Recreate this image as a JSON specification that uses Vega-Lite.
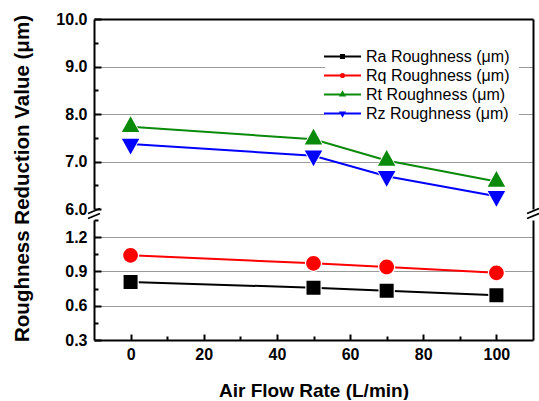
{
  "$schema": "https://vega.github.io/schema/vega-lite/v6.json",
  "padding": {"left": 12, "top": 11, "right": 3, "bottom": 0},
  "background": "white",
  "datasets": {
    "rough": [
      {"flow": 0, "series": "Ra Roughness (μm)", "value": 0.807},
      {"flow": 50, "series": "Ra Roughness (μm)", "value": 0.758},
      {"flow": 70, "series": "Ra Roughness (μm)", "value": 0.731},
      {"flow": 100, "series": "Ra Roughness (μm)", "value": 0.691},
      {"flow": 0, "series": "Rq Roughness (μm)", "value": 1.041},
      {"flow": 50, "series": "Rq Roughness (μm)", "value": 0.971},
      {"flow": 70, "series": "Rq Roughness (μm)", "value": 0.939},
      {"flow": 100, "series": "Rq Roughness (μm)", "value": 0.888},
      {"flow": 0, "series": "Rt Roughness (μm)", "value": 7.73},
      {"flow": 50, "series": "Rt Roughness (μm)", "value": 7.47},
      {"flow": 70, "series": "Rt Roughness (μm)", "value": 7.02},
      {"flow": 100, "series": "Rt Roughness (μm)", "value": 6.58},
      {"flow": 0, "series": "Rz Roughness (μm)", "value": 7.37},
      {"flow": 50, "series": "Rz Roughness (μm)", "value": 7.12},
      {"flow": 70, "series": "Rz Roughness (μm)", "value": 6.69},
      {"flow": 100, "series": "Rz Roughness (μm)", "value": 6.27}
    ],
    "breaks": [
      {"flow": -10, "value": 6},
      {"flow": 110, "value": 6}
    ]
  },
  "spacing": 11,
  "bounds": "flush",
  "resolve": {"scale": {"color": "independent", "shape": "independent"}},
  "vconcat": [
    {
      "width": 439,
      "height": 190,
      "resolve": {"axis": {"x": "independent", "y": "independent"}},
      "layer": [
        {
          "data": {"name": "rough"},
          "transform": [{"filter": "datum.value > 5"}],
          "mark": {"type": "line", "strokeWidth": 2},
          "encoding": {
            "x": {"field": "flow", "type": "quantitative", "scale": {"domain": [-10, 110], "nice": false, "zero": false},
                  "axis": {"orient": "top", "labels": false, "ticks": false, "grid": false, "title": null, "domain": true}},
            "y": {"field": "value", "type": "quantitative", "scale": {"domain": [6, 10], "nice": false, "zero": false},
                  "axis": {"orient": "left", "values": [6, 7, 8, 9, 10], "format": ".1f", "tickSize": -7, "labelPadding": 14,
                           "grid": true, "gridOpacity": {"condition": {"test": "datum.value > 6.5 && datum.value < 9.5", "value": 1}, "value": 0},
                           "title": "Roughness Reduction Value (μm)", "titleX": -62, "titleY": 159, "titleFontSize": 20.5}},
            "color": {"field": "series", "type": "nominal",
                      "scale": {"domain": ["Ra Roughness (μm)", "Rq Roughness (μm)", "Rt Roughness (μm)", "Rz Roughness (μm)"], "range": ["#000000", "#ff0000", "#0a8a0a", "#0000ff"]}}
          }
        },
        {
          "data": {"name": "rough"},
          "transform": [{"filter": "datum.value > 5"}],
          "mark": {"type": "point", "filled": true, "color": "white", "opacity": 1, "size": 6700},
          "encoding": {
            "x": {"field": "flow", "type": "quantitative", "axis": null},
            "y": {"field": "value", "type": "quantitative",
                  "axis": {"orient": "left", "values": [6.5, 7.5, 8.5, 9.5], "labels": false, "tickSize": -4, "domain": false, "grid": false, "title": null}},
            "shape": {"field": "series", "type": "nominal",
                      "scale": {"domain": ["Ra Roughness (μm)", "Rq Roughness (μm)", "Rt Roughness (μm)", "Rz Roughness (μm)"],
                                "range": ["M-2.5,0H2.5M-0.2,-0.2H0.2V0.2H-0.2Z", "M-2.5,0H2.5M-0.21,0A0.21,0.21,0,1,0,0.21,0A0.21,0.21,0,1,0,-0.21,0Z", "M-2.5,0H2.5M0,-0.3L0.25,0.15L-0.25,0.15Z", "M-2.5,0H2.5M0,0.3L0.25,-0.15L-0.25,-0.15Z"]}}
          }
        },
        {
          "data": {"name": "rough"},
          "transform": [{"filter": "datum.value > 5"}],
          "mark": {"type": "point", "filled": true, "opacity": 1, "size": 4900},
          "encoding": {
            "x": {"field": "flow", "type": "quantitative", "axis": null},
            "y": {"field": "value", "type": "quantitative",
                  "axis": {"orient": "right", "labels": false, "ticks": false, "domain": true, "grid": false, "title": null}},
            "color": {"field": "series", "type": "nominal",
                      "scale": {"domain": ["Ra Roughness (μm)", "Rq Roughness (μm)", "Rt Roughness (μm)", "Rz Roughness (μm)"], "range": ["#000000", "#ff0000", "#0a8a0a", "#0000ff"]}},
            "shape": {"field": "series", "type": "nominal",
                      "scale": {"domain": ["Ra Roughness (μm)", "Rq Roughness (μm)", "Rt Roughness (μm)", "Rz Roughness (μm)"],
                                "range": ["M-2.5,0H2.5M-0.2,-0.2H0.2V0.2H-0.2Z", "M-2.5,0H2.5M-0.21,0A0.21,0.21,0,1,0,0.21,0A0.21,0.21,0,1,0,-0.21,0Z", "M-2.5,0H2.5M0,-0.3L0.25,0.15L-0.25,0.15Z", "M-2.5,0H2.5M0,0.3L0.25,-0.15L-0.25,-0.15Z"]}}
          }
        },
        {
          "data": {"name": "breaks"},
          "mark": {"type": "point", "filled": false, "opacity": 1, "color": "black", "strokeWidth": 1.8, "size": 400,
                   "shape": "M-0.6,0.45L0.6,-0.05M-0.6,0.95L0.6,0.45"},
          "encoding": {
            "x": {"field": "flow", "type": "quantitative", "axis": null},
            "y": {"field": "value", "type": "quantitative", "axis": null}
          }
        }
      ]
    },
    {
      "width": 439,
      "height": 120,
      "resolve": {"axis": {"x": "independent", "y": "independent"}},
      "layer": [
        {
          "data": {"name": "rough"},
          "transform": [{"filter": "datum.value < 5"}],
          "mark": {"type": "line", "strokeWidth": 2},
          "encoding": {
            "x": {"field": "flow", "type": "quantitative", "scale": {"domain": [-10, 110], "nice": false, "zero": false},
                  "axis": {"orient": "bottom", "values": [0, 20, 40, 60, 80, 100], "tickSize": -6, "labelPadding": 12, "grid": false,
                           "title": "Air Flow Rate (L/min)", "titlePadding": 19}},
            "y": {"field": "value", "type": "quantitative", "scale": {"domain": [0.3, 1.35], "nice": false, "zero": false},
                  "axis": {"orient": "left", "values": [0.3, 0.6, 0.9, 1.2], "format": ".1f", "tickSize": -7, "labelPadding": 14,
                           "grid": true, "gridOpacity": {"condition": {"test": "datum.value > 0.45", "value": 1}, "value": 0}, "title": null}},
            "color": {"field": "series", "type": "nominal",
                      "scale": {"domain": ["Ra Roughness (μm)", "Rq Roughness (μm)", "Rt Roughness (μm)", "Rz Roughness (μm)"], "range": ["#000000", "#ff0000", "#0a8a0a", "#0000ff"]},
                      "legend": null}
          }
        },
        {
          "data": {"name": "rough"},
          "transform": [{"filter": "datum.value < 5"}],
          "mark": {"type": "point", "filled": true, "color": "white", "opacity": 1, "size": 6700},
          "encoding": {
            "x": {"field": "flow", "type": "quantitative",
                  "axis": {"orient": "bottom", "values": [10, 30, 50, 70, 90], "labels": false, "tickSize": -4, "domain": false, "grid": false, "title": null}},
            "y": {"field": "value", "type": "quantitative",
                  "axis": {"orient": "left", "values": [0.45, 0.75, 1.05, 1.35], "labels": false, "tickSize": -4, "domain": false, "grid": false, "title": null}},
            "shape": {"field": "series", "type": "nominal",
                      "scale": {"domain": ["Ra Roughness (μm)", "Rq Roughness (μm)", "Rt Roughness (μm)", "Rz Roughness (μm)"],
                                "range": ["M-2.5,0H2.5M-0.2,-0.2H0.2V0.2H-0.2Z", "M-2.5,0H2.5M-0.21,0A0.21,0.21,0,1,0,0.21,0A0.21,0.21,0,1,0,-0.21,0Z", "M-2.5,0H2.5M0,-0.3L0.25,0.15L-0.25,0.15Z", "M-2.5,0H2.5M0,0.3L0.25,-0.15L-0.25,-0.15Z"]},
                      "legend": null}
          }
        },
        {
          "data": {"name": "rough"},
          "transform": [{"filter": "datum.value < 5"}],
          "mark": {"type": "point", "filled": true, "opacity": 1, "size": 4900},
          "encoding": {
            "x": {"field": "flow", "type": "quantitative", "axis": null},
            "y": {"field": "value", "type": "quantitative",
                  "axis": {"orient": "right", "labels": false, "ticks": false, "domain": true, "grid": false, "title": null}},
            "color": {"field": "series", "type": "nominal",
                      "scale": {"domain": ["Ra Roughness (μm)", "Rq Roughness (μm)", "Rt Roughness (μm)", "Rz Roughness (μm)"], "range": ["#000000", "#ff0000", "#0a8a0a", "#0000ff"]},
                      "legend": null},
            "shape": {"field": "series", "type": "nominal",
                      "scale": {"domain": ["Ra Roughness (μm)", "Rq Roughness (μm)", "Rt Roughness (μm)", "Rz Roughness (μm)"],
                                "range": ["M-2.5,0H2.5M-0.2,-0.2H0.2V0.2H-0.2Z", "M-2.5,0H2.5M-0.21,0A0.21,0.21,0,1,0,0.21,0A0.21,0.21,0,1,0,-0.21,0Z", "M-2.5,0H2.5M0,-0.3L0.25,0.15L-0.25,0.15Z", "M-2.5,0H2.5M0,0.3L0.25,-0.15L-0.25,-0.15Z"]},
                      "legend": null}
          }
        }
      ]
    }
  ],
  "config": {
    "font": "Liberation Sans",
    "view": {"stroke": null},
    "axis": {
      "labelFont": "Liberation Sans", "labelFontSize": 16, "labelFontWeight": "bold", "labelColor": "black",
      "titleFont": "Liberation Sans", "titleFontSize": 19, "titleFontWeight": "bold", "titleColor": "black",
      "domainColor": "black", "domainWidth": 2, "tickColor": "black", "tickWidth": 2,
      "gridColor": "#9a9a9a", "gridWidth": 1.2
    },
    "legend": {
      "orient": "none", "legendX": 231, "legendY": 20, "title": null, "padding": 9, "fillColor": "white",
      "symbolSize": 219, "symbolStrokeWidth": 2, "labelOffset": 15, "rowPadding": 2,
      "labelFont": "Liberation Sans", "labelFontSize": 16, "labelColor": "black", "symbolOpacity": 1
    }
  }
}
